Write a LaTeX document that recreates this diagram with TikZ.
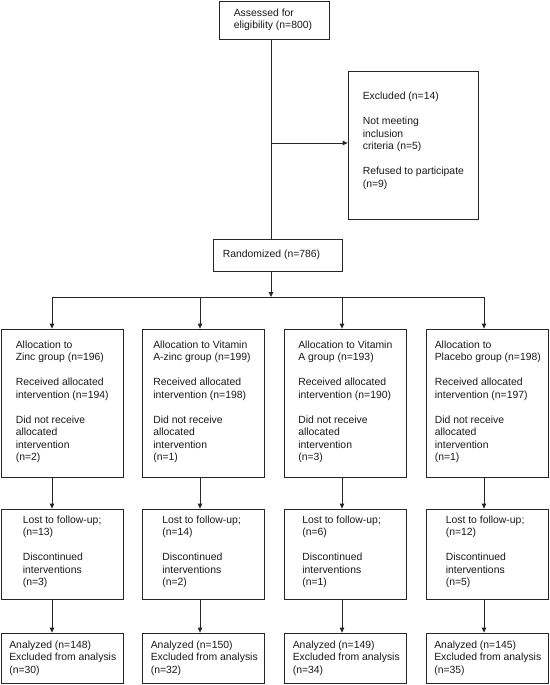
\documentclass[tikz,border=0pt]{standalone}
\usepackage{fontspec}
\setmainfont{Liberation Sans}
\usetikzlibrary{arrows.meta,positioning}
\tikzset{
  box/.style={draw=black!85, line width=0.8pt, inner sep=0pt},
  txt/.style={anchor=west, align=left, inner sep=0pt, text=black!90,
    font=\fontsize{10.4}{12.5}\selectfont},
  link/.style={draw=black!85, line width=0.8pt},
  arr/.style={link, -{Triangle[length=5pt,width=4.5pt]}}
}
\newcommand{\gapline}{\\[12.5pt]}
\begin{document}
\begin{tikzpicture}[x=1pt,y=1pt]
\useasboundingbox (0,0) rectangle (549,-685);
% top part
\node[box, minimum width=110pt, minimum height=38pt] (top) at (274,-20) {};
\node[txt] (topt) at ([xshift=15pt]top.west) {Assessed for\\eligibility (n=800)};
\node[box, minimum width=130pt, minimum height=148pt] (excl) at (413,-145) {};
\node[txt] (exclt) at ([xshift=15pt,yshift=4pt]excl.west) {Excluded (n=14)\gapline Not meeting\\inclusion\\criteria (n=5)\gapline Refused to participate\\(n=9)};
\node[box, minimum width=129pt, minimum height=32pt] (rand) at (277.5,-255) {};
\node[txt] (randt) at ([xshift=10pt]rand.west) {Randomized (n=786)};
% coordinates for connectors
\coordinate (main) at (271,-143);
\coordinate (split) at (271,-297);
\coordinate (jA) at (52,-297);
\coordinate (jB) at (200,-297);
\coordinate (jC) at (342,-297);
\coordinate (jD) at (484,-297);
% boxes of the four arms
\foreach \n/\x in {a/62, b/203.5, c/345.5, d/487}{
  \node[box, minimum width=122pt, minimum height=148pt] (r1\n) at (\x,-403) {};
  \node[box, minimum width=122pt, minimum height=90pt] (r2\n) at (\x,-554) {};
  \node[box, minimum width=122pt, minimum height=50pt] (r3\n) at (\x,-658) {};
}
% row 1
\node[txt] (r1at) at ([xshift=15pt,yshift=1pt]r1a.west) {Allocation to\\Zinc group (n=196)\gapline Received allocated\\intervention (n=194)\gapline Did not receive\\allocated\\intervention\\(n=2)};
\node[txt] (r1bt) at ([xshift=11pt,yshift=1pt]r1b.west) {Allocation to Vitamin\\A-zinc group (n=199)\gapline Received allocated\\intervention (n=198)\gapline Did not receive\\allocated\\intervention\\(n=1)};
\node[txt] (r1ct) at ([xshift=14pt,yshift=1pt]r1c.west) {Allocation to Vitamin\\A group (n=193)\gapline Received allocated\\intervention (n=190)\gapline Did not receive\\allocated\\intervention\\(n=3)};
\node[txt] (r1dt) at ([xshift=9pt,yshift=1pt]r1d.west) {Allocation to\\Placebo group (n=198)\gapline Received allocated\\intervention (n=197)\gapline Did not receive\\allocated\\intervention\\(n=1)};
% row 2
\node[txt] (r2at) at ([xshift=22pt,yshift=2pt]r2a.west) {Lost to follow-up;\\(n=13)\gapline Discontinued\\interventions\\(n=3)};
\node[txt] (r2bt) at ([xshift=20pt,yshift=2pt]r2b.west) {Lost to follow-up;\\(n=14)\gapline Discontinued\\interventions\\(n=2)};
\node[txt] (r2ct) at ([xshift=18pt,yshift=2pt]r2c.west) {Lost to follow-up;\\(n=6)\gapline Discontinued\\interventions\\(n=1)};
\node[txt] (r2dt) at ([xshift=20pt,yshift=2pt]r2d.west) {Lost to follow-up;\\(n=12)\gapline Discontinued\\interventions\\(n=5)};
% row 3
\node[txt] (r3at) at ([xshift=8.5pt]r3a.west) {Analyzed (n=148)\\Excluded from analysis\\(n=30)};
\node[txt] (r3bt) at ([xshift=8.5pt]r3b.west) {Analyzed (n=150)\\Excluded from analysis\\(n=32)};
\node[txt] (r3ct) at ([xshift=8.5pt]r3c.west) {Analyzed (n=149)\\Excluded from analysis\\(n=34)};
\node[txt] (r3dt) at ([xshift=8.5pt]r3d.west) {Analyzed (n=145)\\Excluded from analysis\\(n=35)};
% connectors
\draw[link] (top.south -| main) -- (rand.north -| main);
\draw[arr] (main) -- (main -| excl.west);
\draw[arr] (rand.south -| split) -- (split);
\draw[link] (jA) -- (jD);
\foreach \n/\j in {a/jA, b/jB, c/jC, d/jD}{
  \draw[arr] (\j) -- (\j |- r1\n.north);
  \draw[arr] (r1\n.south -| \j) -- (r2\n.north -| \j);
  \draw[arr] (r2\n.south -| \j) -- (r3\n.north -| \j);
}
\end{tikzpicture}
\end{document}
